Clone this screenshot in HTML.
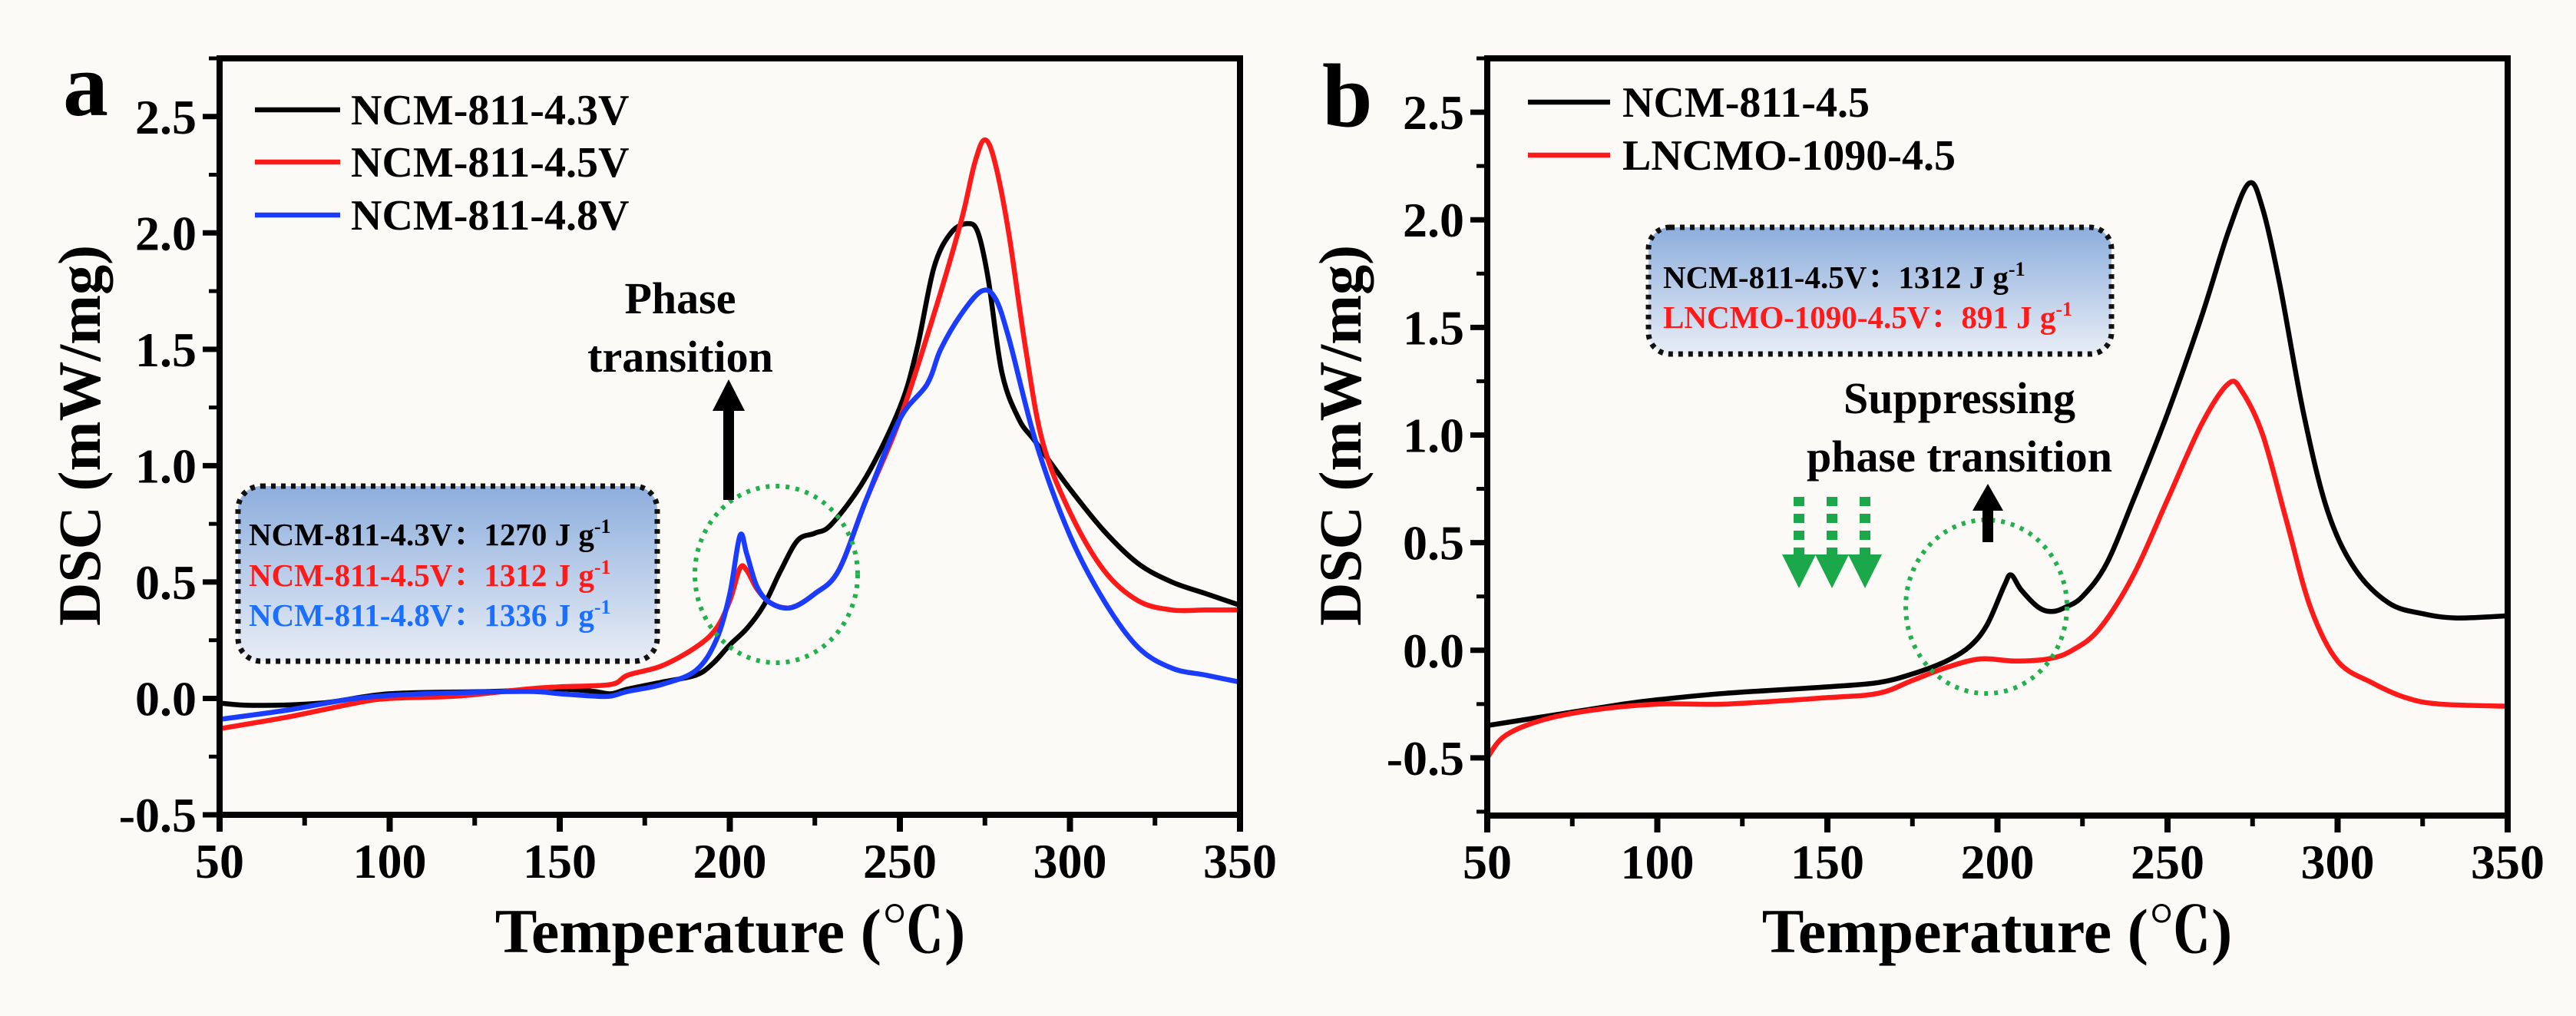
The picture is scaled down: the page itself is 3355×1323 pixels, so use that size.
<!DOCTYPE html>
<html><head><meta charset="utf-8"><style>
html,body{margin:0;padding:0;background:#fbfaf7}
svg{display:block}
text{font-family:"Liberation Serif","Noto Serif CJK SC",serif;font-weight:bold}
</style></head><body>
<svg id="fig" width="3355" height="1323" viewBox="0 0 3355 1323" xmlns="http://www.w3.org/2000/svg">
<defs>
<linearGradient id="gb" x1="0" y1="0" x2="0" y2="1"><stop offset="0" stop-color="#8daedd"/><stop offset="1" stop-color="#e8edf5"/></linearGradient>
</defs>
<rect width="3355" height="1323" fill="#fbfaf7"/>
<g id="pa"></g>
<g id="pb"></g>
</svg>
<script>
// ---------- data ----------
const xTicks = [50,100,150,200,250,300,350];
const yTicksA = [-0.5,0.0,0.5,1.0,1.5,2.0,2.5];
const yTicksB = [-0.5,0.0,0.5,1.0,1.5,2.0,2.5];

const a43x = [50,60,80,100,130,150,160,165,170,180,190,195,200,205,210,215,220,225,230,240,250,255,260,265,270,273,276,280,285,290,300,310,320,330,340,350];
const a43y = [-0.02,-0.03,-0.02,0.02,0.03,0.04,0.03,0.02,0.04,0.07,0.1,0.15,0.23,0.3,0.4,0.55,0.68,0.71,0.75,0.95,1.25,1.5,1.85,2.0,2.04,2.0,1.8,1.4,1.2,1.1,0.9,0.72,0.58,0.5,0.45,0.4];
const a45x = [50,70,90,100,120,140,150,165,170,180,190,196,200,203,205,208,212,218,225,232,240,250,260,268,272,275,278,282,287,292,300,310,320,330,340,350];
const a45y = [-0.13,-0.08,-0.02,0.0,0.01,0.04,0.05,0.06,0.1,0.14,0.22,0.3,0.42,0.56,0.55,0.47,0.41,0.39,0.45,0.55,0.85,1.2,1.65,2.05,2.3,2.4,2.3,2.0,1.5,1.1,0.8,0.55,0.42,0.38,0.38,0.38];
const a48x = [50,70,90,110,140,150,160,165,170,180,190,196,200,203,205,208,212,218,225,232,240,250,258,262,268,274,278,282,290,300,310,320,330,340,350];
const a48y = [-0.09,-0.05,0.0,0.02,0.03,0.02,0.01,0.01,0.03,0.06,0.12,0.25,0.45,0.7,0.62,0.48,0.41,0.39,0.45,0.55,0.85,1.2,1.35,1.5,1.65,1.75,1.72,1.55,1.1,0.7,0.42,0.22,0.13,0.1,0.07];

const bNx = [50,70,90,100,120,150,165,175,185,192,197,202,204,207,212,216,220,225,232,240,250,260,268,274,278,283,290,297,305,315,325,335,350];
const bNy = [-0.35,-0.3,-0.25,-0.23,-0.2,-0.17,-0.15,-0.11,-0.05,0.02,0.12,0.3,0.35,0.28,0.2,0.18,0.2,0.25,0.4,0.7,1.1,1.55,1.95,2.17,2.05,1.7,1.1,0.65,0.38,0.22,0.17,0.15,0.16];
const bLx = [50,55,65,80,100,120,150,165,175,185,195,205,215,222,230,240,250,260,268,272,278,285,292,300,310,320,330,350];
const bLy = [-0.5,-0.4,-0.33,-0.28,-0.25,-0.25,-0.22,-0.2,-0.14,-0.08,-0.04,-0.05,-0.04,0.0,0.1,0.35,0.7,1.05,1.24,1.2,1.0,0.6,0.2,-0.05,-0.15,-0.22,-0.25,-0.26];

const NS="http://www.w3.org/2000/svg";
function mk(parent,tag,attrs,txt){const e=document.createElementNS(NS,tag);for(const k in attrs)e.setAttribute(k,attrs[k]);if(txt!==undefined)e.textContent=txt;parent.appendChild(e);return e;}
function smooth(pts){let d="M"+pts[0][0]+","+pts[0][1];for(let i=0;i<pts.length-1;i++){const p0=pts[Math.max(0,i-1)],p1=pts[i],p2=pts[i+1],p3=pts[Math.min(pts.length-1,i+2)];const c1x=p1[0]+(p2[0]-p0[0])/6,c1y=p1[1]+(p2[1]-p0[1])/6,c2x=p2[0]-(p3[0]-p1[0])/6,c2y=p2[1]-(p3[1]-p1[1])/6;d+=" C"+c1x+","+c1y+" "+c2x+","+c2y+" "+p2[0]+","+p2[1];}return d;}

function panel(g,L,R,T,B,ymin,ymax,yTicks,series){
  const sx=v=>L+(v-50)/300*(R-L);
  const sy=v=>B-(v-ymin)/(ymax-ymin)*(B-T);
  const clip="clip"+L;
  const cp=mk(g,"clipPath",{id:clip});mk(cp,"rect",{x:L,y:T,width:R-L,height:B-T});
  series.forEach(s=>{
    const pts=s.x.map((v,i)=>[sx(v),sy(s.y[i])]);
    const p=mk(g,"path",{d:smooth(pts),fill:"none",stroke:s.c,"stroke-width":6.5,"stroke-linejoin":"round","clip-path":"url(#"+clip+")"});
    
    
  });
  const fr=mk(g,"rect",{x:L,y:T,width:R-L,height:B-T,fill:"none",stroke:"#000","stroke-width":8});
  
  
  for(let v=50;v<=350;v+=25){const maj=v%50===0;mk(g,"line",{x1:sx(v),x2:sx(v),y1:B,y2:B+(maj?22:14),stroke:"#000","stroke-width":maj?8:6});}
  xTicks.forEach(v=>{const t=mk(g,"text",{x:sx(v),y:B+82,"font-size":64,"text-anchor":"middle"},String(v));
    
    });
  for(let v=-0.75;v<=2.76;v+=0.25){if(v<ymin-1e-6)continue;const maj=Math.abs(Math.round(v*2)-v*2)<1e-6;mk(g,"line",{x1:L,x2:L-(maj?22:14),y1:sy(v),y2:sy(v),stroke:"#000","stroke-width":maj?7:5});}
  yTicks.forEach(v=>{const t=mk(g,"text",{x:L-30,y:sy(v)+22,"font-size":64,"text-anchor":"end"},v.toFixed(1));
    
    });
  return {sx,sy};
}

const ga=document.getElementById("pa"), gb=document.getElementById("pb");
panel(ga,286,1615,76,1061,-0.5,2.75,yTicksA,[
  {x:a43x,y:a43y,c:"#000",name:"series-ncm-811-4.3v"},
  {x:a45x,y:a45y,c:"#ff1a1a",name:"series-ncm-811-4.5v"},
  {x:a48x,y:a48y,c:"#1a3cff",name:"series-ncm-811-4.8v"}]);
panel(gb,1937,3266,76,1062,-0.768,2.75,yTicksB,[
  {x:bNx,y:bNy,c:"#000",name:"series-ncm-811-4.5"},
  {x:bLx,y:bLy,c:"#ff1a1a",name:"series-lncmo-1090-4.5"}]);
</script>
<script>
(function(){
const svg=document.getElementById("fig");
const h=`
<text x="82" y="150" font-size="118">a</text>
<text transform="translate(130,567) rotate(-90)" text-anchor="middle" font-size="78">DSC (mW/mg)</text>
<text x="951" y="1240" text-anchor="middle" font-size="82">Temperature (℃)</text>
<g>
<line x1="332" x2="443" y1="143" y2="143" stroke="#000" stroke-width="6.5"/>
<text x="457" y="162" font-size="56">NCM-811-4.3V</text>
<line x1="332" x2="443" y1="211" y2="211" stroke="#ff1a1a" stroke-width="6.5"/>
<text x="457" y="230" font-size="56">NCM-811-4.5V</text>
<line x1="332" x2="443" y1="280" y2="280" stroke="#1a3cff" stroke-width="6.5"/>
<text x="457" y="299" font-size="56">NCM-811-4.8V</text>
</g>
<g>
<rect x="310" y="633" width="546" height="228" rx="30" fill="url(#gb)" stroke="#111" stroke-width="7" stroke-dasharray="6 7"/>
<text x="324" y="710" font-size="41" fill="#000">NCM-811-4.3V：1270 J g<tspan font-size="26" dy="-16">-1</tspan></text>
<text x="324" y="763" font-size="41" fill="#ff1a1a">NCM-811-4.5V：1312 J g<tspan font-size="26" dy="-16">-1</tspan></text>
<text x="324" y="815" font-size="41" fill="#1a6fff">NCM-811-4.8V：1336 J g<tspan font-size="26" dy="-16">-1</tspan></text>
</g>
<ellipse cx="1011" cy="748" rx="106" ry="115" fill="none" stroke="#22b04b" stroke-width="6" stroke-dasharray="5 8"/>
<g>
<line x1="949" x2="949" y1="651" y2="530" stroke="#000" stroke-width="14"/>
<polygon points="928,535 970,535 949,494" fill="#000"/>
</g>
<text x="886" y="408" text-anchor="middle" font-size="58">Phase</text>
<text x="886" y="484" text-anchor="middle" font-size="58">transition</text>

<text x="1722" y="164" font-size="118">b</text>
<text transform="translate(1772,567) rotate(-90)" text-anchor="middle" font-size="78">DSC (mW/mg)</text>
<text x="2601" y="1240" text-anchor="middle" font-size="82">Temperature (℃)</text>
<g>
<line x1="1990" x2="2097" y1="133" y2="133" stroke="#000" stroke-width="6.5"/>
<text x="2113" y="152" font-size="56">NCM-811-4.5</text>
<line x1="1990" x2="2097" y1="202" y2="202" stroke="#ff1a1a" stroke-width="6.5"/>
<text x="2113" y="221" font-size="56">LNCMO-1090-4.5</text>
</g>
<g>
<rect x="2147" y="296" width="603" height="165" rx="28" fill="url(#gb)" stroke="#111" stroke-width="7" stroke-dasharray="6 7"/>
<text x="2166" y="375" font-size="41" fill="#000">NCM-811-4.5V：1312 J g<tspan font-size="26" dy="-16">-1</tspan></text>
<text x="2166" y="427" font-size="41" fill="#ff1a1a">LNCMO-1090-4.5V：891 J g<tspan font-size="26" dy="-16">-1</tspan></text>
</g>
<text x="2552" y="538" text-anchor="middle" font-size="58">Suppressing</text>
<text x="2552" y="614" text-anchor="middle" font-size="58">phase transition</text>
<ellipse cx="2587" cy="790" rx="105" ry="113" fill="none" stroke="#22b04b" stroke-width="6" stroke-dasharray="5 8"/>
<g>
<line x1="2589" x2="2589" y1="706" y2="660" stroke="#000" stroke-width="14"/>
<polygon points="2569,665 2609,665 2589,630" fill="#000"/>
</g>
<g fill="#1aa84a" stroke="#1aa84a">
<line x1="2343" x2="2343" y1="647" y2="725" stroke-width="14" stroke-dasharray="12 10"/>
<line x1="2386" x2="2386" y1="647" y2="725" stroke-width="14" stroke-dasharray="12 10"/>
<line x1="2429" x2="2429" y1="647" y2="725" stroke-width="14" stroke-dasharray="12 10"/>
<polygon points="2321,722 2365,722 2343,766" stroke="none"/>
<polygon points="2364,722 2408,722 2386,766" stroke="none"/>
<polygon points="2407,722 2451,722 2429,766" stroke="none"/>
</g>`;
svg.insertAdjacentHTML("beforeend",h);
})();
</script>
</body></html>
